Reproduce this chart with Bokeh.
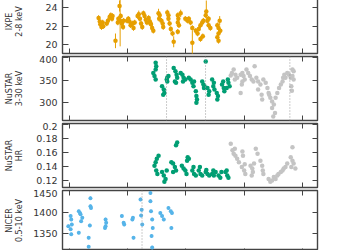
import numpy as np
from bokeh.plotting import figure
from bokeh.layouts import column
from bokeh.models import (FixedTicker, LinearAxis, Span, ColumnDataSource, Range1d,
                          CustomJSTickFormatter)
from bokeh.embed import file_html
from bokeh.resources import INLINE

# ---------------- data (time in days) ----------------
x_ticks = [0, 1, 2, 3, 4]

ixpe_t = [0.50, 0.52, 0.53, 0.55, 0.57, 0.58, 0.64, 0.66, 0.69, 0.71, 0.73, 0.74, 0.79,
          0.83, 0.84, 0.86, 0.87, 0.88, 0.90, 0.92, 0.93, 0.99, 1.01, 1.03, 1.05, 1.08, 1.10, 1.12,
          1.17, 1.19, 1.21, 1.23, 1.25, 1.27, 1.29, 1.31, 1.33, 1.36, 1.38, 1.39, 1.40, 1.42, 1.44,
          1.53, 1.55, 1.54, 1.58, 1.60, 1.61, 1.68, 1.70, 1.70, 1.72, 1.74, 1.77, 1.79,
          1.86, 1.87, 1.86, 1.88, 1.86, 1.91, 1.99, 2.03, 2.05, 2.08, 2.11, 2.11,
          2.17, 2.20, 2.22, 2.25, 2.28, 2.30, 2.29, 2.25, 2.34, 2.37, 2.39, 2.39, 2.42, 2.35,
          2.54, 2.56, 2.59, 2.56, 2.54, 2.56, 2.58]
ixpe_rate = [22.9, 22.5, 22.2, 21.9, 22.4, 22.0, 22.3, 22.6, 23.0, 23.2, 22.8, 23.1, 20.4,
             22.4, 22.8, 24.2, 22.6, 23.1, 22.3, 21.9, 22.6, 22.6, 22.8, 22.5, 22.1, 22.3, 21.8, 22.4,
             23.1, 23.3, 22.8, 22.3, 21.9, 23.4, 23.1, 22.7, 22.4, 22.9, 22.5, 22.3, 22.2, 21.8, 21.5,
             23.4, 23.2, 22.8, 22.6, 22.3, 21.9, 23.5, 23.2, 22.8, 22.3, 21.7, 21.2, 20.3,
             23.2, 22.8, 22.4, 22.1, 21.4, 23.4, 22.8, 22.6, 22.8, 22.4, 21.8, 20.2,
             21.5, 21.2, 21.7, 22.1, 22.4, 22.6, 20.9, 20.6, 23.2, 22.6, 22.8, 22.1, 21.8, 23.6,
             22.1, 21.8, 21.5, 21.2, 20.8, 20.4, 22.6]
ixpe_err = [0.3, 0.3, 0.35, 0.3, 0.3, 0.3, 0.3, 0.3, 0.35, 0.3, 0.3, 0.3, 0.8,
            0.3, 0.3, 0.6, 2.8, 0.3, 0.3, 0.3, 0.3, 0.3, 0.3, 0.3, 0.3, 0.3, 0.3, 0.3,
            0.3, 0.4, 0.3, 0.3, 0.3, 0.3, 0.3, 0.3, 0.3, 0.3, 0.3, 0.3, 0.3, 0.3, 0.3,
            0.5, 0.3, 0.3, 0.3, 0.3, 0.3, 0.3, 0.3, 0.3, 0.3, 0.3, 0.3, 0.6,
            0.3, 0.3, 0.3, 0.3, 0.3, 0.4, 0.3, 0.3, 0.3, 0.3, 0.3, 1.3,
            0.3, 0.3, 0.3, 0.3, 0.3, 0.3, 0.3, 0.3, 0.3, 0.3, 0.3, 0.3, 0.3, 1.2,
            0.3, 0.3, 0.3, 0.3, 0.3, 0.3, 0.5]

nustar_t = [1.48, 1.49, 1.48, 1.44, 1.46, 1.48, 1.59, 1.62, 1.63, 1.61, 1.67, 1.68, 1.70, 1.68,
            1.79, 1.82, 1.84, 1.85, 1.81, 1.83, 1.91, 1.94, 1.96, 1.95, 1.99, 2.05, 2.08, 2.11, 2.13, 2.14,
            2.17, 2.18, 2.19, 2.18, 2.28, 2.30, 2.31, 2.32, 2.34, 2.37, 2.40, 2.39,
            2.45, 2.48, 2.47, 2.49, 2.53, 2.55, 2.54, 2.62, 2.65, 2.66, 2.64, 2.72, 2.73, 2.75, 2.70]
nustar_rate = [389, 381, 374, 366, 359, 351, 336, 329, 321, 317, 351, 356, 359, 347,
               377, 370, 362, 355, 347, 344, 366, 362, 355, 347, 351, 355, 351, 344, 336, 347,
               325, 314, 306, 299, 347, 340, 332, 336, 392, 332, 325, 317,
               351, 344, 336, 329, 321, 314, 306, 340, 332, 325, 347, 351, 344, 336, 332]

nustar_other_t = [2.77, 2.79, 2.82, 2.85, 2.84, 2.88, 2.94, 2.97, 2.99, 3.01, 2.97, 2.96, 2.94,
                  3.04, 3.07, 3.10, 3.13, 3.16, 3.18, 3.21, 3.24, 3.28, 3.24, 3.30, 3.31,
                  3.33, 3.37, 3.40, 3.42, 3.43, 3.45, 3.48, 3.51, 3.48, 3.53, 3.50,
                  3.54, 3.57, 3.60, 3.63, 3.66, 3.67, 3.69,
                  3.71, 3.74, 3.77, 3.80, 3.83, 3.85, 3.81, 3.85, 3.83, 3.82]
nustar_other_rate = [360, 366, 374, 362, 351, 355, 362, 366, 359, 351, 347, 340, 321,
                     374, 366, 359, 351, 347, 381, 355, 347, 340, 329, 317, 306,
                     351, 344, 332, 321, 317, 310, 302, 295, 287, 276, 268,
                     310, 321, 332, 340, 347, 355, 362,
                     355, 366, 362, 355, 359, 351, 336, 370, 374, 326]

hr_t = [1.48, 1.50, 1.53, 1.46, 1.49, 1.51, 1.59, 1.62, 1.65, 1.63, 1.67,
        1.75, 1.78, 1.81, 1.83, 1.78, 1.85, 1.83, 1.93, 1.96, 1.99, 2.02, 2.03, 2.05, 2.01,
        2.11, 2.14, 2.17, 2.13, 2.22, 2.25, 2.28, 2.24, 2.34, 2.37, 2.40, 2.35,
        2.45, 2.48, 2.51, 2.47, 2.56, 2.59, 2.61, 2.68, 2.71, 2.73, 2.70]
hr = [0.146, 0.151, 0.155, 0.141, 0.134, 0.129, 0.132, 0.127, 0.122, 0.118, 0.134,
      0.146, 0.144, 0.139, 0.134, 0.132, 0.174, 0.170, 0.141, 0.137, 0.134, 0.148, 0.153, 0.151, 0.129,
      0.134, 0.129, 0.127, 0.139, 0.134, 0.129, 0.127, 0.139, 0.132, 0.129, 0.127, 0.135,
      0.129, 0.127, 0.132, 0.134, 0.127, 0.124, 0.132, 0.132, 0.127, 0.124, 0.134]

hr_other_t = [2.77, 2.80, 2.82, 2.85, 2.88, 2.84, 2.91, 2.97, 2.98, 2.96, 3.00, 3.02, 3.01,
              3.11, 3.14, 3.17, 3.15, 3.13, 3.20, 3.23, 3.28, 3.31, 3.32, 3.33,
              3.42, 3.45, 3.48, 3.51, 3.54, 3.57, 3.59, 3.63, 3.66, 3.68, 3.71, 3.74,
              3.80, 3.83, 3.85, 3.81, 3.88, 3.83]
hr_other = [0.172, 0.163, 0.158, 0.155, 0.151, 0.165, 0.146, 0.161, 0.155, 0.139, 0.134, 0.129, 0.143,
            0.141, 0.137, 0.144, 0.132, 0.127, 0.165, 0.158, 0.148, 0.141, 0.134, 0.129,
            0.122, 0.118, 0.120, 0.125, 0.122, 0.127, 0.129, 0.132, 0.134, 0.137, 0.139, 0.144,
            0.153, 0.148, 0.144, 0.139, 0.137, 0.167]

nicer_t = [0.02, 0.03, 0.04, 0.02, 0.03, -0.02, 0.16, 0.19, 0.22, 0.18, 0.20, 0.16,
           0.36, 0.36, 0.37, 0.35, 0.33, 0.33, 0.62, 0.63, 0.62, 0.61, 0.90, 0.93, 0.94,
           1.08, 1.10, 1.09, 1.22, 1.23, 1.25, 1.24, 1.39, 1.39, 1.40, 1.42, 1.43, 1.41, 1.42,
           1.56, 1.59, 1.62, 1.70, 1.74, 1.76, 1.75]
nicer_rate = [1391, 1383, 1371, 1360, 1348, 1367, 1402, 1395, 1387, 1398, 1379, 1352,
              1433, 1414, 1410, 1369, 1340, 1319, 1383, 1375, 1367, 1363, 1391, 1375, 1371,
              1383, 1340, 1387, 1430, 1392, 1371, 1406, 1445, 1426, 1402, 1383, 1363, 1344, 1317,
              1398, 1391, 1383, 1410, 1402, 1398, 1363]

nustar_marks = [1.667, 2.337, 3.785]
nicer_marks = [1.246]

ixpe_ticks = [20, 22, 24]
nustar_ticks = [300, 350, 400]
hr_ticks = [0.12, 0.14, 0.16, 0.18, 0.2]
nicer_ticks = [1350, 1400, 1450]

# ---------------- styling ----------------
ORANGE = "#E69F00"
GREEN = "#009E73"
BLUE = "#56B4E9"
GREY = "#C4C4C4"
FRAME = "#444444"
TXT = "#333333"
FONT = "DejaVu Sans"
X_RANGE = (-0.12, 4.26)


def style_xaxis(ax, tick_len):
    ax.ticker = FixedTicker(ticks=x_ticks)
    ax.formatter = CustomJSTickFormatter(code="return ''")
    ax.major_label_text_font_size = "1px"
    ax.major_label_standoff = 0
    ax.major_tick_in = tick_len
    ax.major_tick_out = 0
    ax.minor_tick_in = 0
    ax.minor_tick_out = 0
    ax.axis_line_color = None
    ax.major_tick_line_color = FRAME
    ax.major_tick_line_width = 1


def panel(height, b_top, b_bot, yr, yticks, label_text, label_standoff,
          top_axis=True, bottom_tick=5, overrides=None):
    p = figure(width=350, height=height, x_range=Range1d(*X_RANGE), y_range=Range1d(*yr),
               output_backend="svg", toolbar_location=None,
               min_border_left=62, min_border_right=33,
               min_border_top=b_top, min_border_bottom=b_bot)
    p.background_fill_color = "white"
    p.border_fill_color = "white"
    p.grid.visible = False
    p.outline_line_color = FRAME
    p.outline_line_width = 1.4

    style_xaxis(p.xaxis[0], bottom_tick)
    if top_axis:
        ta = LinearAxis()
        style_xaxis(ta, 5)
        p.add_layout(ta, "above")

    ya = p.yaxis[0]
    ya.ticker = FixedTicker(ticks=yticks)
    ya.major_label_text_font = FONT
    ya.major_label_text_font_size = "9.5px"
    ya.major_label_text_color = TXT
    ya.major_label_standoff = 5
    ya.major_tick_in = 6
    ya.major_tick_out = 0
    ya.minor_tick_in = 0
    ya.minor_tick_out = 0
    ya.axis_line_color = None
    ya.major_tick_line_color = FRAME
    ya.axis_label = label_text
    ya.axis_label_text_font = FONT
    ya.axis_label_text_font_size = "8px"
    ya.axis_label_text_font_style = "normal"
    ya.axis_label_text_color = TXT
    ya.axis_label_standoff = label_standoff
    ya.axis_label_text_line_height = 1.2
    if overrides:
        ya.major_label_overrides = overrides

    ra = LinearAxis(ticker=FixedTicker(ticks=yticks))
    ra.formatter = CustomJSTickFormatter(code="return ''")
    ra.major_label_text_font_size = "1px"
    ra.major_label_standoff = 0
    ra.major_tick_in = 5
    ra.major_tick_out = 0
    ra.minor_tick_in = 0
    ra.minor_tick_out = 0
    ra.axis_line_color = None
    ra.major_tick_line_color = FRAME
    p.add_layout(ra, "right")
    return p


# IXPE  (frame extends 11 px above the window, as in the reference crop)
p1 = panel(66, 0, 2, (19.02, 26.0), ixpe_ticks, "IXPE\n2-8 keV", 18, top_axis=True)
ix = np.array(ixpe_rate)
ie = np.array(ixpe_err)
src_ix = ColumnDataSource(dict(t=ixpe_t, r=ixpe_rate, lo=ix - ie, hi=ix + ie))
p1.segment(x0="t", y0="lo", x1="t", y1="hi", source=src_ix, line_color=ORANGE, line_width=1)
p1.scatter(x="t", y="r", source=src_ix, size=4.5, color=ORANGE, line_width=0)

# NuSTAR rate
p2 = panel(67, 1, 2, (259, 403), nustar_ticks, "NuSTAR\n3-30 keV", 12)
for m in nustar_marks:
    p2.add_layout(Span(location=m, dimension="height", line_color="#999999",
                       line_dash="1 2", line_width=1))
p2.scatter(nustar_other_t, nustar_other_rate, size=4.5, color=GREY, line_width=0)
p2.scatter(nustar_t, nustar_rate, size=4.5, color=GREEN, line_width=0)

# NuSTAR HR
p3 = panel(67, 1, 2, (0.110, 0.2009), hr_ticks, "NuSTAR\nHR", 9,
           overrides={0.12: "0.12", 0.14: "0.14", 0.16: "0.16", 0.18: "0.18", 0.2: "0.2"})
p3.scatter(hr_other_t, hr_other, size=4.5, color=GREY, line_width=0)
p3.scatter(hr_t, hr, size=4.5, color=GREEN, line_width=0)

# NICER (frame continues below the window, as in the reference crop)
p4 = panel(61, 1, 0, (1310, 1451), nicer_ticks, "NICER\n0.5-10 keV", 6, bottom_tick=2)
for m in nicer_marks:
    p4.add_layout(Span(location=m, dimension="height", line_color="#999999",
                       line_dash="1 2", line_width=1))
nr = np.array(nicer_rate)
src_ni = ColumnDataSource(dict(t=nicer_t, r=nicer_rate, lo=nr - 4, hi=nr + 4))
p4.segment(x0="t", y0="lo", x1="t", y1="hi", source=src_ni, line_color=BLUE, line_width=1)
p4.scatter(x="t", y="r", source=src_ni, size=4, color=BLUE, line_width=0)

layout = column(p1, p2, p3, p4, spacing=0, margin=(-11, 0, 0, 0))
open("out.html", "w").write(file_html(layout, INLINE))
